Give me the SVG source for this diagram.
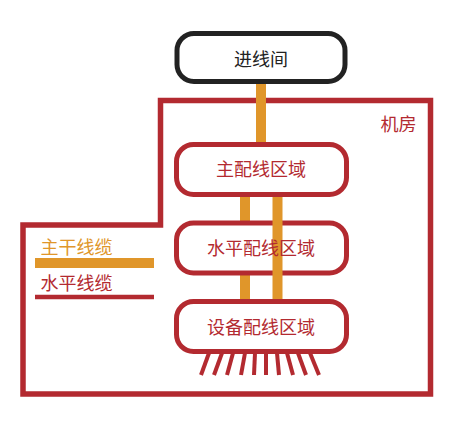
<svg xmlns="http://www.w3.org/2000/svg" width="459" height="426" viewBox="0 0 459 426">
<style>
text{font-family:"Noto Sans CJK SC","Noto Sans",sans-serif;font-size:18px;text-anchor:middle}
.box{fill:#fff;stroke:#b32a30;stroke-width:5}
.lbl{fill:#b32a30}
.trunk{stroke:#e0962a;stroke-width:10;fill:none}
.fan{stroke:#b32a30;stroke-width:4;fill:none}
</style>
<rect width="459" height="426" fill="#fff"/>
<g id="room">
<path d="M160.5 225 V100.5 H430.5 V394 H23 V225 Z" fill="none" stroke="#b32a30" stroke-width="5.5"/>
<text x="398.5" y="131" class="lbl">机房</text>
</g>
<g id="legend">
<text x="76.5" y="254" fill="#e0962a" font-size="17.5">主干线缆</text>
<line x1="35" y1="263" x2="154" y2="263" stroke="#e0962a" stroke-width="10"/>
<text x="76.5" y="290" class="lbl" font-size="17.5">水平线缆</text>
<line x1="35" y1="297" x2="154" y2="297" stroke="#b32a30" stroke-width="4.5"/>
</g>
<g id="connectors">
<line class="trunk" x1="261" y1="80" x2="261" y2="146"/>
<line class="trunk" x1="245" y1="192" x2="245" y2="226"/>
<line class="trunk" x1="245" y1="270" x2="245" y2="303"/>
</g>
<g id="horizontal">
<rect class="box" x="176.5" y="223" width="170" height="50" rx="17"/>
</g>
<g id="connectors2">
<line class="trunk" x1="277.5" y1="192" x2="277.5" y2="303"/>
</g>
<g id="entrance">
<rect x="177" y="33.5" width="168" height="48" rx="17" fill="#fff" stroke="#222" stroke-width="5"/>
<text x="261" y="66" fill="#222">进线间</text>
</g>
<g id="main">
<rect class="box" x="176.5" y="144.5" width="170" height="50" rx="17"/>
<text x="261" y="176" class="lbl">主配线区域</text>
</g>
<g id="horizontal-label">
<text x="261" y="255" class="lbl">水平配线区域</text>
</g>
<g id="equipment">
<rect class="box" x="176.5" y="301.5" width="170" height="50" rx="17"/>
<text x="261" y="334" class="lbl">设备配线区域</text>
</g>
<g id="fan">
<line class="fan" x1="209" y1="353" x2="201" y2="375"/>
<line class="fan" x1="222" y1="353" x2="214" y2="375"/>
<line class="fan" x1="233" y1="353" x2="227" y2="375"/>
<line class="fan" x1="245" y1="353" x2="241" y2="375"/>
<line class="fan" x1="255" y1="353" x2="254" y2="375"/>
<line class="fan" x1="266" y1="353" x2="266" y2="375"/>
<line class="fan" x1="277" y1="353" x2="279" y2="375"/>
<line class="fan" x1="287" y1="353" x2="293" y2="375"/>
<line class="fan" x1="298" y1="353" x2="306" y2="375"/>
<line class="fan" x1="310" y1="353" x2="319" y2="375"/>
</g>
</svg>
